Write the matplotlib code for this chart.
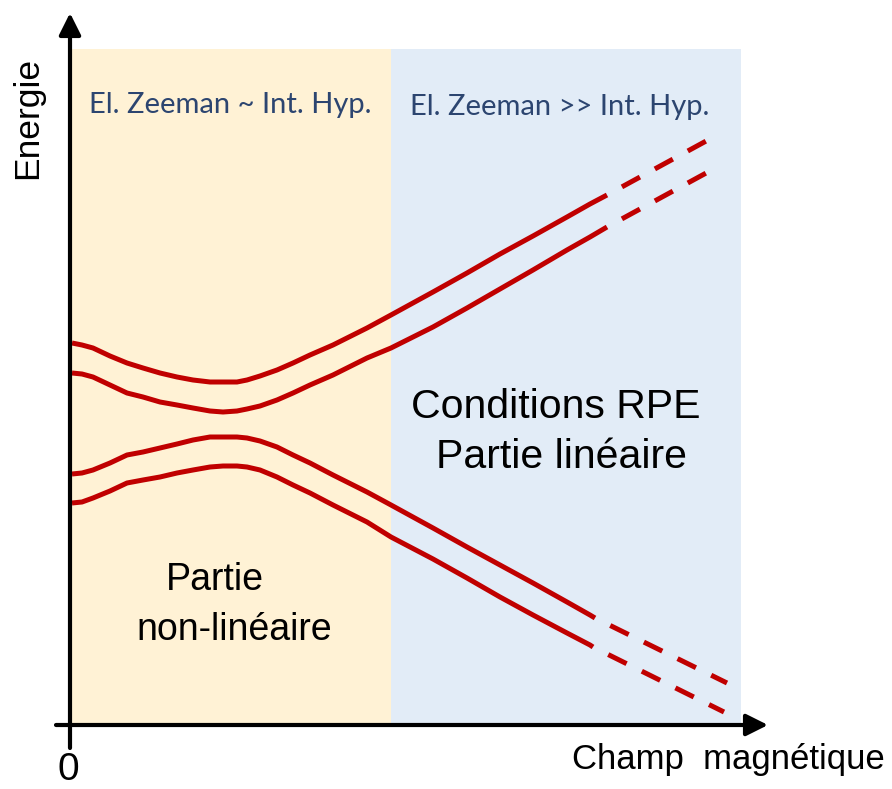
import matplotlib
matplotlib.use("Agg")
import matplotlib.pyplot as plt

# Schematic energy levels vs magnetic field (arbitrary units)
field = [2, 12, 23, 40, 57, 73, 90, 107, 123, 140, 153, 167, 177, 190, 207,
         223, 240, 263, 297, 321, 363, 397, 430, 463, 497, 520]

level_a = [382, 380, 377, 369, 362, 357, 352, 348, 345, 343, 343, 343, 345,
           349, 355, 362, 370, 380, 397, 410, 433, 452, 471, 489, 508, 521]
level_b = [352, 351, 348, 340, 332, 328, 323, 320, 317, 314, 313, 314, 316,
           319, 325, 332, 340, 350, 367, 377, 398, 417, 436, 455, 475, 488]
level_c = [251, 252, 255, 262, 270, 273, 277, 281, 285, 288, 288, 288, 287,
           284, 278, 270, 262, 250, 233, 220, 197, 178, 160, 142, 123, 110]
level_d = [222, 223, 227, 234, 242, 245, 248, 252, 255, 258, 259, 259, 258,
           255, 248, 240, 232, 220, 203, 188, 166, 147, 128, 110, 92, 80]

# end of the solid part and end of the extrapolated (dashed) part
solid_end_field = [537, 537, 525, 523]
solid_end_energy = [530, 498, 107, 78]
dash_end_field = [638, 638, 657, 654]
dash_end_energy = [585, 553, 42, 13]

# field regions
nonlinear_region = (0, 321)
linear_region = (321, 671)
region_top = 676

RED = "#C00000"
YELLOW = "#FFF2D5"
BLUE = "#E2ECF7"
NAVY = "#2C4570"

fig = plt.figure(figsize=(8.92, 7.89), dpi=100)
ax = fig.add_axes([0, 0, 1, 1])
ax.set_xlim(-70, 822)
ax.set_ylim(-64, 725)
ax.axis("off")

ymin = 64 / 789
ymax = (region_top + 64) / 789
ax.axvspan(*nonlinear_region, ymin=ymin, ymax=ymax, color=YELLOW, lw=0, zorder=0)
ax.axvspan(*linear_region, ymin=ymin, ymax=ymax, color=BLUE, lw=0, zorder=0)

lw = 3.6
levels = [level_a, level_b, level_c, level_d]
for i, lev in enumerate(levels):
    xs = field + [solid_end_field[i]]
    ys = lev + [solid_end_energy[i]]
    ax.plot(xs, ys, color=RED, lw=lw, solid_capstyle="butt",
            solid_joinstyle="round", zorder=3)
    ax.plot([solid_end_field[i], dash_end_field[i]],
            [solid_end_energy[i], dash_end_energy[i]],
            color=RED, lw=lw, dash_capstyle="butt",
            linestyle=(4.1, (4.1, 3.4)), zorder=3)

# axes with arrow heads
axis_kw = dict(arrowstyle="-|>,head_length=1.1,head_width=0.55",
               color="black", lw=3.0, mutation_scale=12,
               shrinkA=0, shrinkB=0)
ax.annotate("", xy=(0, 712), xytext=(0, -23), arrowprops=axis_kw, zorder=5)
ax.annotate("", xy=(698, 0), xytext=(-14, 0), arrowprops=axis_kw, zorder=5)

sans = "Liberation Sans"
ax.text(-42, 607, "Energie", rotation=90, ha="center", va="center",
        fontsize=25.5, family=sans)
ax.text(-2, -63, "0", ha="center", va="bottom", fontsize=28, family=sans)
ax.text(658, -35, "Champ  magnétique", ha="center", va="center",
        fontsize=25, family=sans)

ax.text(160, 620, "El. Zeeman ~ Int. Hyp.", ha="center", va="center",
        fontsize=21, family="Lato", color=NAVY)
ax.text(490, 618, "El. Zeeman >> Int. Hyp.", ha="center", va="center",
        fontsize=21, family="Lato", color=NAVY)

ax.text(486, 318, "Conditions RPE", ha="center", va="center",
        fontsize=29.5, family=sans)
ax.text(492, 268, "Partie linéaire", ha="center", va="center",
        fontsize=29.5, family=sans)
ax.text(145, 145, "Partie", ha="center", va="center", fontsize=27, family=sans)
ax.text(164, 95, "non-linéaire", ha="center", va="center",
        fontsize=27, family=sans)

fig.savefig("out.png", dpi=100)
